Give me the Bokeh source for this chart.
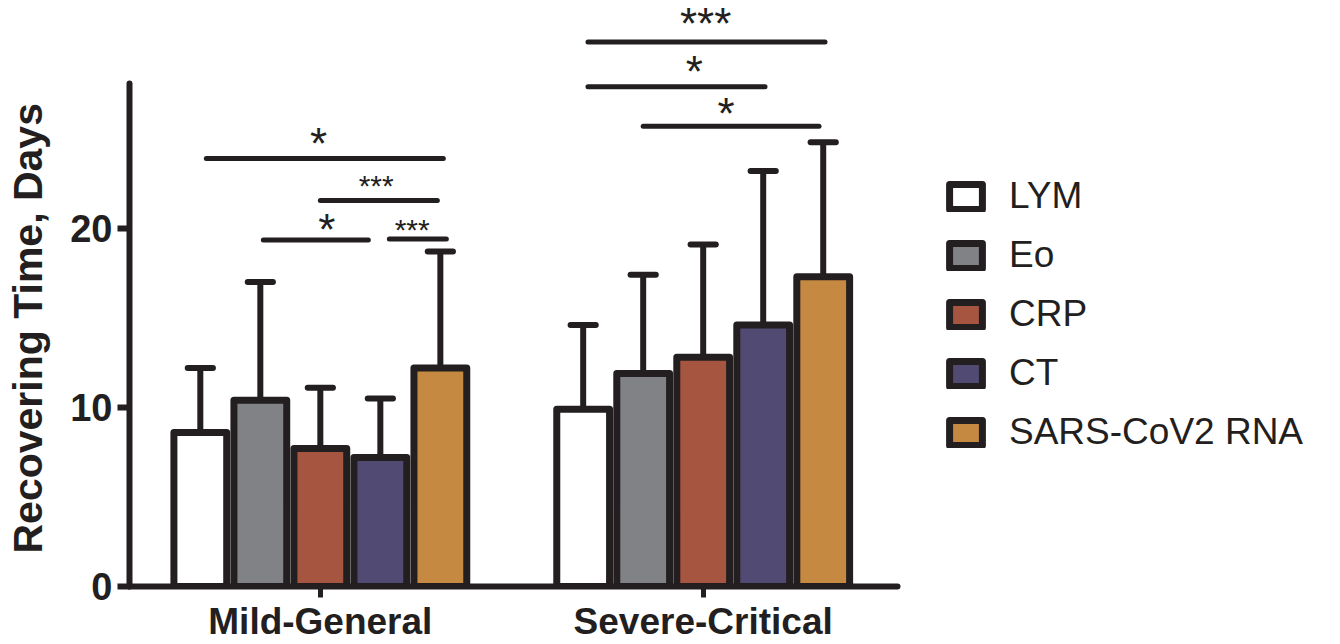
from bokeh.plotting import figure
from bokeh.models import Range1d, FixedTicker, Legend, LegendItem, Title, ColumnDataSource
from bokeh.core.properties import value
from bokeh.embed import file_html
from bokeh.resources import INLINE

# ---------------- data ----------------
groups = ["Mild-General", "Severe-Critical"]
series = ["LYM", "Eo", "CRP", "CT", "SARS-CoV2 RNA"]
mean_mild = [8.6, 10.4, 7.7, 7.2, 12.2]
sd_mild = [3.6, 6.6, 3.4, 3.3, 6.5]
mean_severe = [9.9, 11.9, 12.8, 14.6, 17.3]
sd_severe = [4.7, 5.5, 6.3, 8.6, 7.5]
y_ticks = [0, 10, 20]

# significance brackets: group, from bar, to bar, height, label and label spot
sig_group = [0, 0, 0, 0, 1, 1, 1]
sig_from = [0.1, 2.0, 1.05, 3.15, 0.08, 0.08, 1.0]
sig_to = [4.05, 3.95, 2.8, 4.1, 4.03, 3.03, 3.93]
sig_y = [23.9, 21.55, 19.35, 19.4, 30.4, 27.9, 25.7]
sig_text = ["*", "***", "*", "***", "***", "*", "*"]
sig_text_pos = [1.97, 2.93, 2.11, 3.53, 2.04, 1.85, 2.38]
sig_text_y = [25.03, 22.63, 20.22, 20.13, 31.69, 29.06, 26.69]
sig_small = [False, True, False, True, False, False, False]

# ---------------- styles ----------------
colors = ["#ffffff", "#808285", "#a65540", "#514a72", "#c68942"]
INK = "#231f20"
FONT = "Liberation Sans"
group_centers = [0.0, 6.38]
bar_width = 0.88
cap_half = 0.21
y_axis_top = 28.1

p = figure(width=1340, height=644, output_backend="svg", toolbar_location=None,
           x_range=Range1d(-3.18, 17.0), y_range=Range1d(0, 32.72),
           min_border_left=129, min_border_right=0, min_border_top=0, min_border_bottom=55)
p.outline_line_color = None
p.xgrid.visible = False
p.ygrid.visible = False
p.background_fill_color = "white"

means = [mean_mild, mean_severe]
sds = [sd_mild, sd_severe]

def bar_x(g, i):
    return group_centers[g] + (i - 2)

# error bars
ex, ey0, ey1, cx0, cx1 = [], [], [], [], []
for g in range(2):
    for i in range(len(series)):
        x = bar_x(g, i)
        top = means[g][i] + sds[g][i]
        ex.append(x); ey0.append(means[g][i]); ey1.append(top)
        cx0.append(x - cap_half); cx1.append(x + cap_half)
p.segment(x0=ex, y0=ey0, x1=ex, y1=ey1, line_color=INK, line_width=6)
p.segment(x0=cx0, y0=ey1, x1=cx1, y1=ey1, line_color=INK, line_width=6, line_cap="round")

# bars
renderers = []
for i, s in enumerate(series):
    src = ColumnDataSource(dict(x=[bar_x(0, i), bar_x(1, i)], top=[mean_mild[i], mean_severe[i]]))
    r = p.vbar(x="x", top="top", bottom=0, width=bar_width, source=src,
               fill_color=colors[i], line_color=INK, line_width=7, line_join="round")
    renderers.append(r)

# significance lines
lx0 = [group_centers[g] + (a - 2) for g, a in zip(sig_group, sig_from)]
lx1 = [group_centers[g] + (b - 2) for g, b in zip(sig_group, sig_to)]
p.segment(x0=lx0, y0=sig_y, x1=lx1, y1=sig_y, line_color=INK, line_width=5, line_cap="round")

for small, size, off in [(False, "44px", 5), (True, "30px", 4)]:
    idx = [k for k in range(len(sig_text)) if sig_small[k] == small]
    p.text(x=[group_centers[sig_group[k]] + (sig_text_pos[k] - 2) for k in idx],
           y=[sig_text_y[k] for k in idx], text=[sig_text[k] for k in idx],
           text_font=value(FONT), text_font_size=size, text_color=INK,
           text_align="center", text_baseline="alphabetic", y_offset=off)

# axes
ax = p.yaxis[0]
ax.ticker = FixedTicker(ticks=y_ticks)
ax.bounds = (0, y_axis_top)
ax.axis_line_width = 6
ax.axis_line_color = INK
ax.axis_line_cap = "round"
ax.major_tick_line_width = 6
ax.major_tick_line_color = INK
ax.major_tick_out = 12
ax.major_tick_in = 0
ax.minor_tick_line_color = None
ax.major_label_text_font = FONT
ax.major_label_text_font_size = "38px"
ax.major_label_text_font_style = "bold"
ax.major_label_text_color = INK
ax.major_label_standoff = 5
# blank axis label only reserves a gap between the tick labels and the title
ax.axis_label = " "
ax.axis_label_text_font_size = "1px"
ax.axis_label_standoff = 13

bx = p.xaxis[0]
bx.ticker = FixedTicker(ticks=group_centers)
bx.major_label_overrides = {c: g for c, g in zip(group_centers, groups)}
bx.bounds = (-3.18, 9.62)
bx.axis_line_width = 6
bx.axis_line_color = INK
bx.axis_line_cap = "round"
bx.major_tick_line_width = 5
bx.major_tick_line_color = INK
bx.major_tick_out = 11
bx.major_tick_in = 0
bx.minor_tick_line_color = None
bx.major_label_text_font = FONT
bx.major_label_text_font_size = "37px"
bx.major_label_text_font_style = "bold"
bx.major_label_text_color = INK
bx.major_label_standoff = 3

# y-axis title, placed along the drawn part of the axis
p.add_layout(Title(text="Recovering Time, Days", align="left", offset=33,
                   text_font=FONT, text_font_size="41px", text_font_style="bold",
                   text_color=INK, standoff=0), "left")

legend = Legend(items=[LegendItem(label=s, renderers=[r]) for s, r in zip(series, renderers)],
                location=(816, 133), orientation="vertical",
                glyph_width=41, glyph_height=31, label_height=42, spacing=17,
                padding=0, margin=0, label_standoff=23,
                label_text_font=FONT, label_text_font_size="37px", label_text_color=INK,
                border_line_color=None, background_fill_alpha=0)
p.add_layout(legend)

open("out.html", "w").write(file_html(p, INLINE))
